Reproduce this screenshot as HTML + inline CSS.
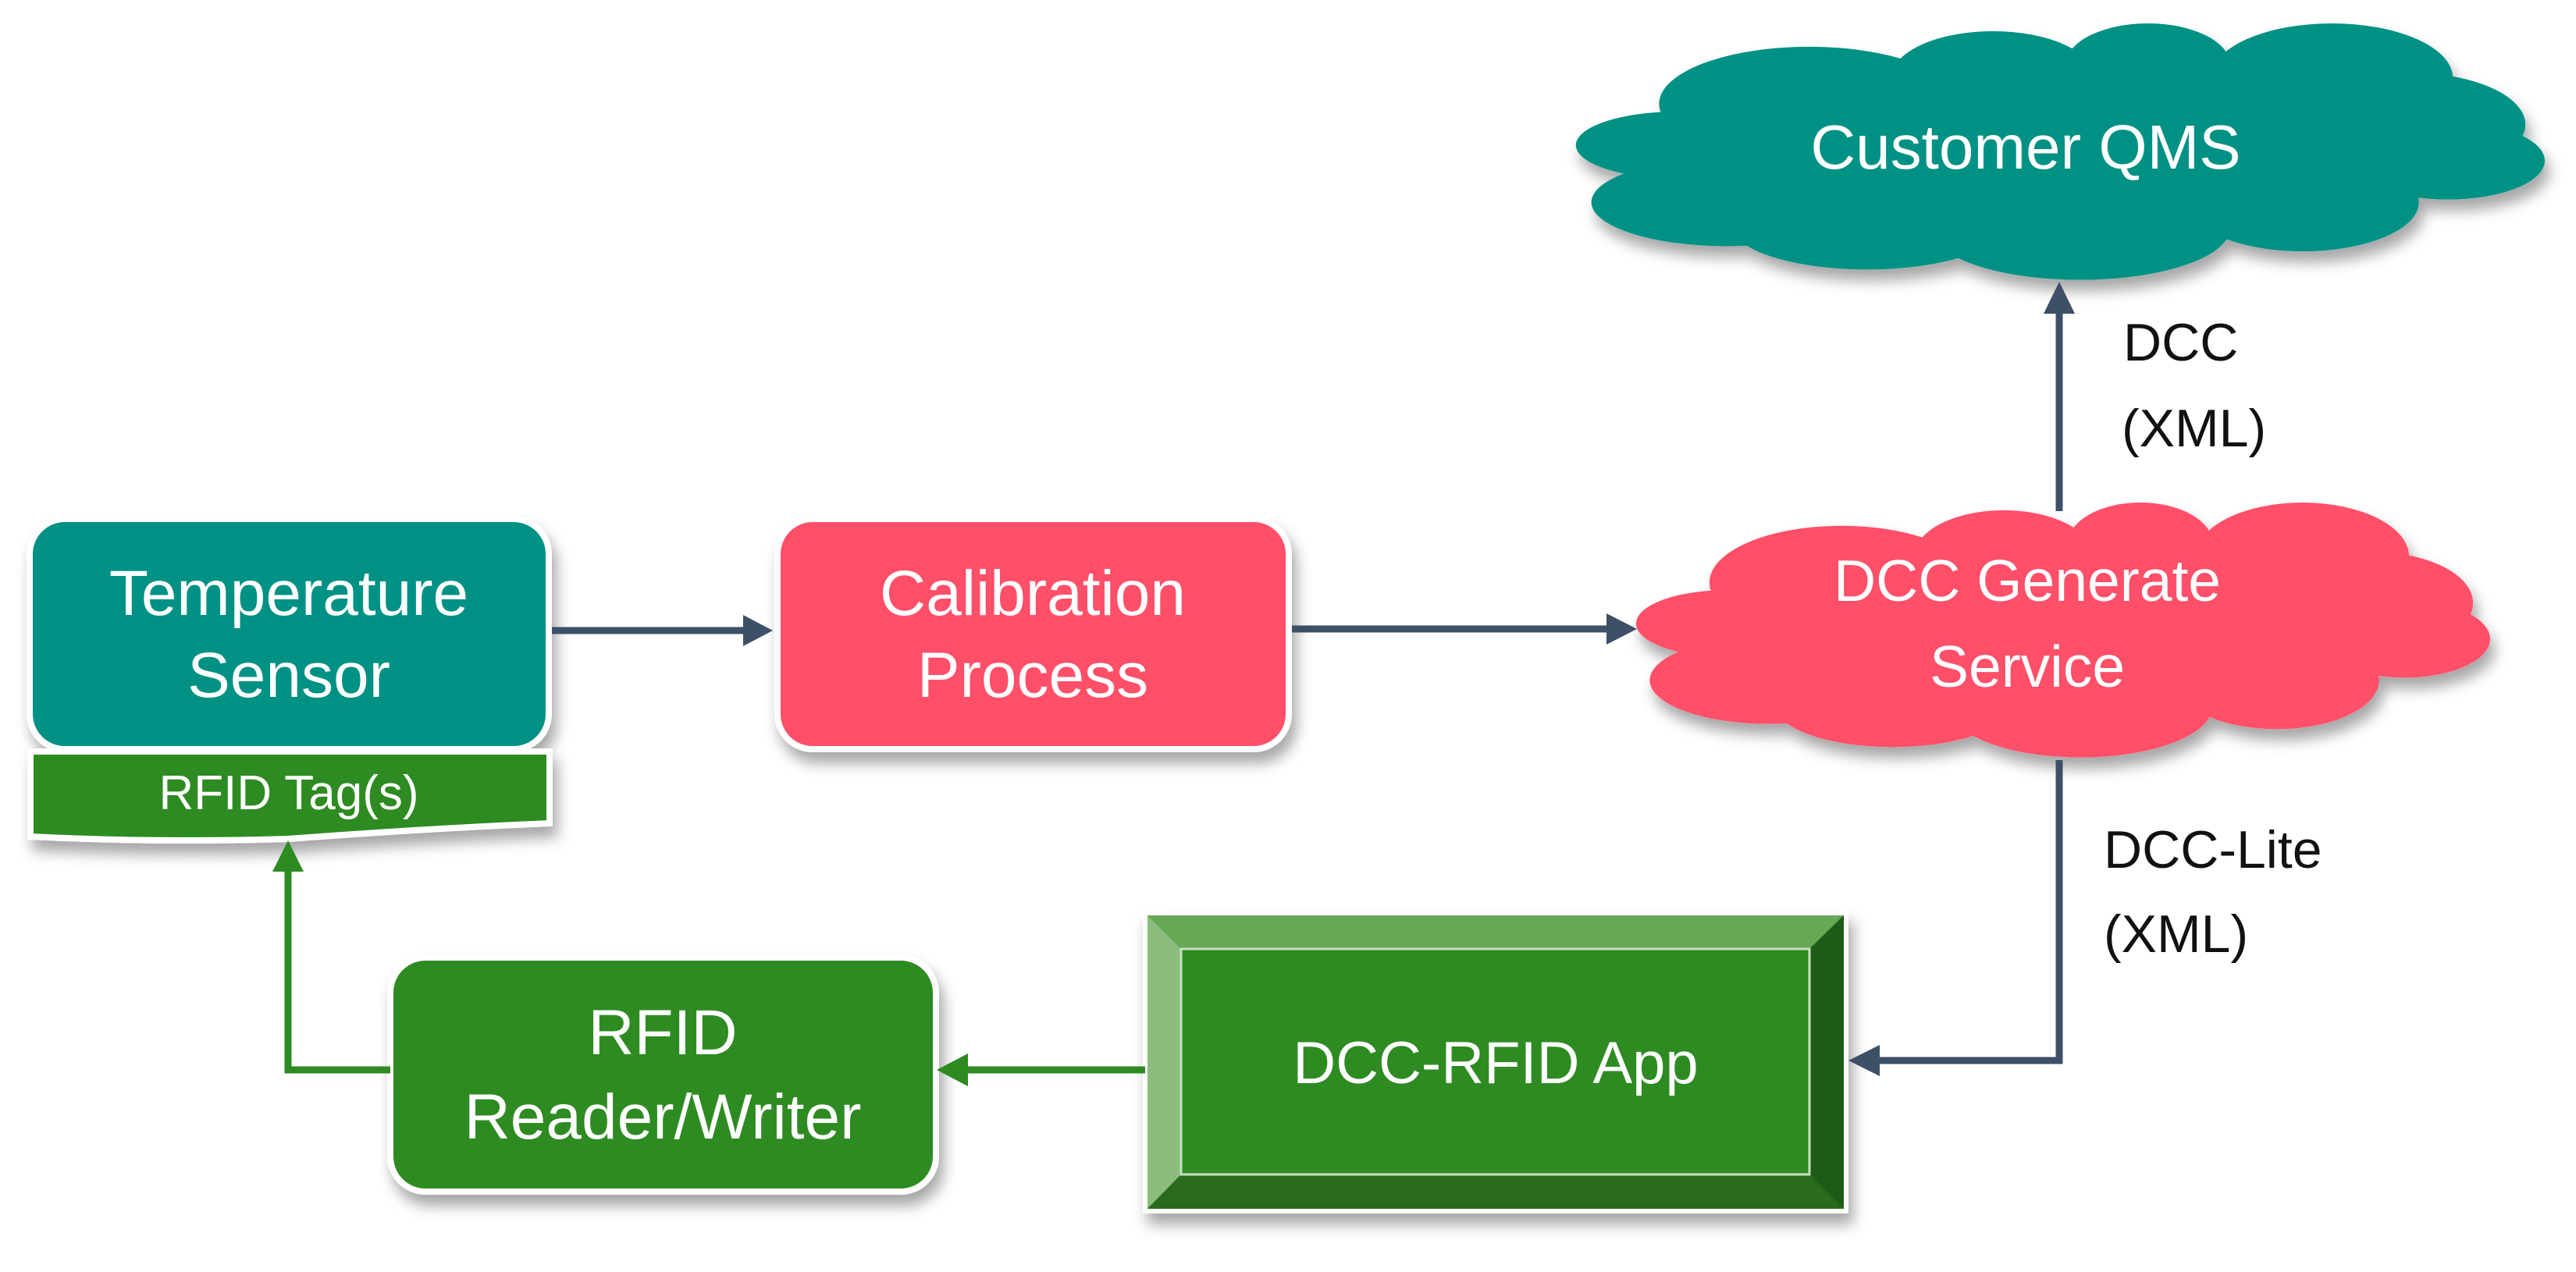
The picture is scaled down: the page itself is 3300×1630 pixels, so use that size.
<!DOCTYPE html>
<html><head><meta charset="utf-8"><style>
html,body{margin:0;padding:0;background:#fff;}
svg{display:block;}
text{font-family:"Liberation Sans",sans-serif;}
</style></head><body>
<svg width="3300" height="1630" viewBox="0 0 3300 1630" xmlns="http://www.w3.org/2000/svg">
<defs>
<filter id="sh" x="-10%" y="-10%" width="130%" height="140%">
<feDropShadow dx="6" dy="14" stdDeviation="9" flood-color="#000" flood-opacity="0.35"/>
</filter>
<g id="cloudS">
<ellipse cx=".105" cy=".47" rx=".106" ry=".13"/>
<ellipse cx=".155" cy=".69" rx=".14" ry=".17"/>
<ellipse cx=".24" cy=".31" rx=".155" ry=".22"/>
<ellipse cx=".43" cy=".21" rx=".105" ry=".18"/>
<ellipse cx=".59" cy=".16" rx=".085" ry=".16"/>
<ellipse cx=".78" cy=".21" rx=".125" ry=".21"/>
<ellipse cx=".86" cy=".39" rx=".12" ry=".2"/>
<ellipse cx=".9" cy=".53" rx=".1" ry=".15"/>
<ellipse cx=".75" cy=".69" rx=".12" ry=".19"/>
<ellipse cx=".52" cy=".79" rx=".155" ry=".2"/>
<ellipse cx=".3" cy=".78" rx=".14" ry=".17"/>
<ellipse cx=".5" cy=".49" rx=".35" ry=".3"/>
</g>
</defs>

<g filter="url(#sh)">
<g transform="translate(2020,30) scale(1240,332)">
<use href="#cloudS" fill="#fff" stroke="#fff" stroke-width="10" vector-effect="non-scaling-stroke" style="stroke-width:10px"/>
</g>
<g transform="translate(2020,30) scale(1240,332)">
<use href="#cloudS" fill="#009185"/>
</g>
</g>
<text x="2595" y="216" font-size="80" fill="#fff" text-anchor="middle">Customer QMS</text>

<g filter="url(#sh)">
<g transform="translate(2097,644) scale(1093,330)">
<use href="#cloudS" fill="#fff" stroke="#fff" stroke-width="10" vector-effect="non-scaling-stroke" style="stroke-width:10px"/>
</g>
<g transform="translate(2097,644) scale(1093,330)">
<use href="#cloudS" fill="#ff4f69"/>
</g>
</g>
<text x="2597" y="770" font-size="75" fill="#fff" text-anchor="middle">DCC Generate</text>
<text x="2597" y="880" font-size="75" fill="#fff" text-anchor="middle">Service</text>

<rect x="38" y="665" width="665" height="295" rx="45" fill="#009185" stroke="#fff" stroke-width="8" filter="url(#sh)"/>
<text x="370" y="788" font-size="82" fill="#fff" text-anchor="middle">Temperature</text>
<text x="370" y="893" font-size="82" fill="#fff" text-anchor="middle">Sensor</text>

<path d="M39 963 L704 963 L704 1055 Q540 1062 369 1075 Q200 1080 39 1072 Z" fill="#2e8b22" stroke="#fff" stroke-width="8" filter="url(#sh)"/>
<text x="370" y="1037" font-size="62" fill="#fff" text-anchor="middle">RFID Tag(s)</text>

<rect x="996" y="665" width="655" height="295" rx="45" fill="#ff4f69" stroke="#fff" stroke-width="8" filter="url(#sh)"/>
<text x="1323" y="788" font-size="82" fill="#fff" text-anchor="middle">Calibration</text>
<text x="1323" y="893" font-size="82" fill="#fff" text-anchor="middle">Process</text>

<rect x="500" y="1227" width="699" height="300" rx="45" fill="#2e8b22" stroke="#fff" stroke-width="8" filter="url(#sh)"/>
<text x="849" y="1351" font-size="82" fill="#fff" text-anchor="middle">RFID</text>
<text x="849" y="1459" font-size="82" fill="#fff" text-anchor="middle">Reader/Writer</text>

<g filter="url(#sh)">
<rect x="1467" y="1170" width="898" height="382" fill="#2e8b22" stroke="#fff" stroke-width="6"/>
<polygon points="1470,1173 2362,1173 2318,1216 1513,1216" fill="#66a857"/>
<polygon points="1470,1173 1513,1216 1513,1505 1470,1549" fill="#8cbd7c"/>
<polygon points="2362,1173 2362,1549 2318,1505 2318,1216" fill="#1e5b12"/>
<polygon points="1470,1549 1513,1505 2318,1505 2362,1549" fill="#2a6a1e"/>
<rect x="1513" y="1216" width="805" height="289" fill="#2e8b22" stroke="#c8e0c0" stroke-width="3"/>
</g>
<text x="1916" y="1388" font-size="76" fill="#fff" text-anchor="middle">DCC-RFID App</text>

<g stroke="#3d5068" stroke-width="9" fill="none">
<line x1="707" y1="808" x2="960" y2="808"/>
<line x1="1655" y1="806" x2="2062" y2="806"/>
<line x1="2638" y1="655" x2="2638" y2="400"/>
<polyline points="2638,974 2638,1359 2405,1359"/>
</g>
<g fill="#3d5068">
<polygon points="990,808 952,788 952,828"/>
<polygon points="2097,806 2058,786 2058,826"/>
<polygon points="2638,361 2618,402 2658,402"/>
<polygon points="2368,1359 2408,1339 2408,1379"/>
</g>
<g stroke="#2e8b22" stroke-width="9" fill="none">
<line x1="1467" y1="1371" x2="1235" y2="1371"/>
<polyline points="500,1371 369,1371 369,1112"/>
</g>
<g fill="#2e8b22">
<polygon points="1200,1371 1240,1350 1240,1392"/>
<polygon points="369,1077 349,1117 389,1117"/>
</g>

<text x="2720" y="462" font-size="68" fill="#111">DCC</text>
<text x="2718" y="572" font-size="68" fill="#111">(XML)</text>
<text x="2695" y="1112" font-size="68" fill="#111">DCC-Lite</text>
<text x="2695" y="1220" font-size="68" fill="#111">(XML)</text>
</svg>
</body></html>
